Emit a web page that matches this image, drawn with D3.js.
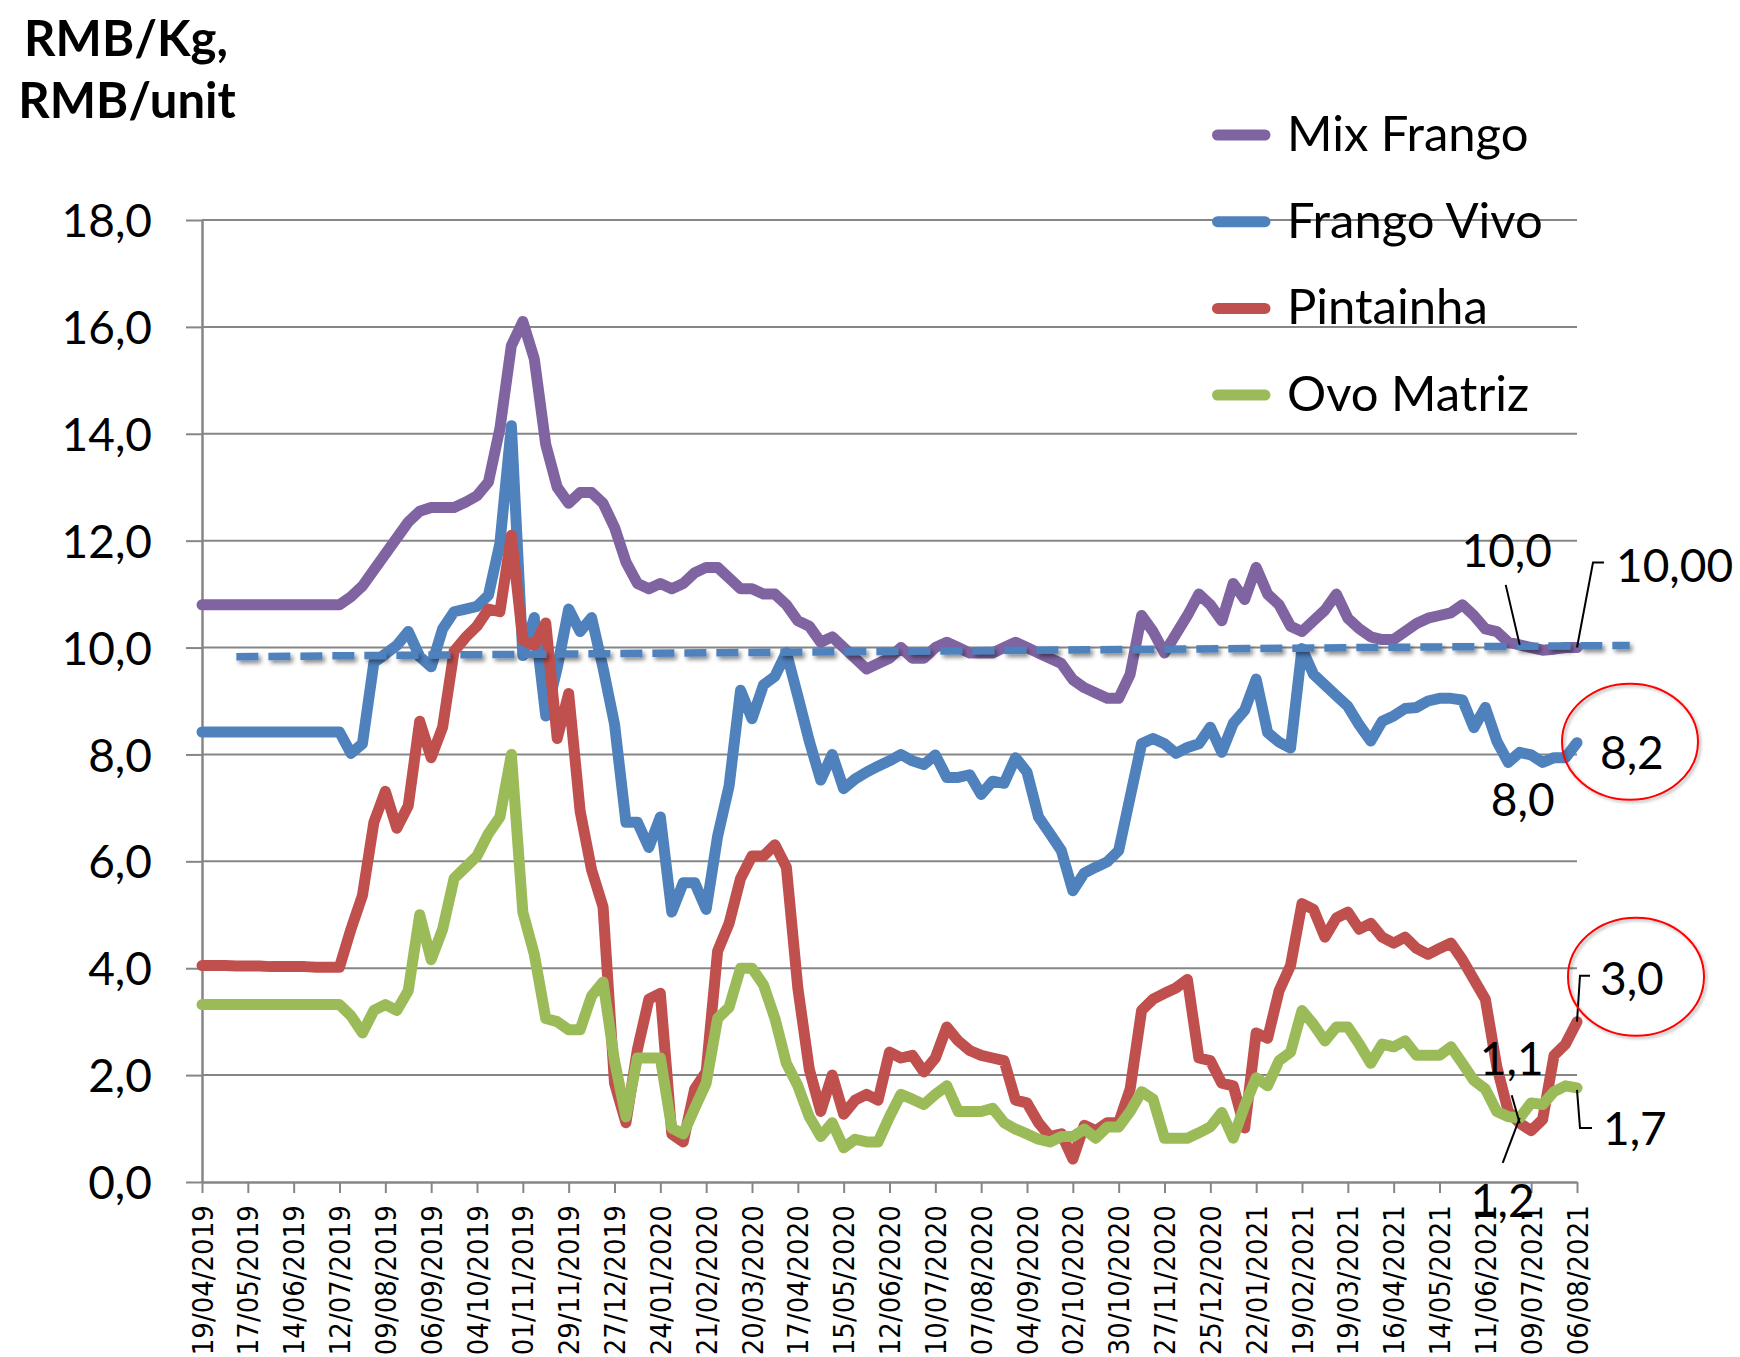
<!DOCTYPE html>
<html><head><meta charset="utf-8">
<script src="https://cdn.jsdelivr.net/npm/d3@7"></script>
<style>html,body{margin:0;padding:0;background:#fff;} svg{display:block;background:#fff}</style>
</head><body>
<svg id="c" width="1740" height="1357"></svg>
<script>
// ---- data (weekly, 19/04/2019 .. 06/08/2021, 121 weeks) ----
const tickLabels = ["19/04/2019","17/05/2019","14/06/2019","12/07/2019","09/08/2019","06/09/2019","04/10/2019","01/11/2019","29/11/2019","27/12/2019","24/01/2020","21/02/2020","20/03/2020","17/04/2020","15/05/2020","12/06/2020","10/07/2020","07/08/2020","04/09/2020","02/10/2020","30/10/2020","27/11/2020","25/12/2020","22/01/2021","19/02/2021","19/03/2021","16/04/2021","14/05/2021","11/06/2021","09/07/2021","06/08/2021"];
const yTickValues = [0,2,4,6,8,10,12,14,16,18];
const yTickLabels = ["0,0","2,0","4,0","6,0","8,0","10,0","12,0","14,0","16,0","18,0"];
const seriesNames = ["Mix Frango","Frango Vivo","Pintainha","Ovo Matriz"];
const seriesColors = ["#8064A2","#4F81BD","#C0504D","#9BBB59"];

const mixFrango = [
10.8,10.8,10.8,10.8,10.8,10.8,10.8,10.8,10.8,10.8,
10.8,10.8,10.8,10.95,11.15,11.45,11.75,12.05,12.35,12.55,
12.62,12.62,12.62,12.72,12.84,13.1,14.1,15.65,16.1,15.4,
13.8,13.0,12.7,12.9,12.9,12.7,12.25,11.6,11.2,11.1,
11.2,11.1,11.2,11.4,11.5,11.5,11.3,11.1,11.1,11.0,
11.0,10.8,10.5,10.4,10.1,10.2,10.0,9.8,9.6,9.7,
9.8,10.0,9.8,9.8,10.0,10.1,10.0,9.9,9.9,9.9,
10.0,10.1,10.0,9.9,9.8,9.7,9.4,9.25,9.15,9.05,
9.05,9.5,10.6,10.3,9.9,10.25,10.6,11.0,10.8,10.5,
11.2,10.9,11.5,11.0,10.8,10.4,10.3,10.5,10.7,11.0,
10.55,10.35,10.2,10.15,10.15,10.3,10.45,10.55,10.6,10.65,
10.8,10.6,10.35,10.3,10.1,10.05,10.0,9.95,9.97,10.0,
10.0];
const frangoVivo = [
8.42,8.42,8.42,8.42,8.42,8.42,8.42,8.42,8.42,8.42,
8.42,8.42,8.42,8.02,8.2,9.72,9.88,10.04,10.3,9.83,
9.64,10.35,10.67,10.72,10.77,10.98,11.95,14.15,9.85,10.56,
8.72,9.62,10.72,10.3,10.56,9.62,8.57,6.73,6.73,6.26,
6.83,5.05,5.6,5.6,5.1,6.47,7.41,9.2,8.67,9.3,
9.46,9.91,9.09,8.25,7.52,8.0,7.36,7.54,7.67,7.78,
7.88,8.0,7.88,7.81,7.99,7.57,7.57,7.62,7.25,7.5,
7.46,7.94,7.67,6.83,6.52,6.2,5.45,5.78,5.89,5.99,
6.2,7.2,8.2,8.3,8.2,8.02,8.13,8.2,8.51,8.04,
8.58,8.83,9.41,8.41,8.23,8.12,9.98,9.5,9.3,9.1,
8.9,8.55,8.25,8.62,8.72,8.86,8.88,9.0,9.05,9.05,
9.02,8.5,8.88,8.25,7.85,8.04,7.99,7.85,7.94,7.94,
8.22];
const pintainha = [
4.05,4.05,4.05,4.04,4.04,4.04,4.03,4.03,4.03,4.03,
4.02,4.02,4.02,4.73,5.36,6.73,7.31,6.62,7.04,8.62,
7.94,8.51,9.93,10.19,10.4,10.72,10.67,12.1,10.14,10.04,
10.46,8.3,9.14,6.94,5.84,5.15,1.85,1.11,2.48,3.42,
3.53,0.9,0.75,1.74,2.06,4.32,4.84,5.68,6.1,6.1,
6.31,5.89,3.63,2.11,1.32,2.0,1.27,1.53,1.64,1.53,
2.43,2.32,2.37,2.06,2.32,2.9,2.64,2.46,2.37,2.32,
2.27,1.53,1.48,1.11,0.85,0.9,0.43,1.06,0.96,1.11,
1.11,1.74,3.21,3.42,3.53,3.63,3.79,2.32,2.27,1.85,
1.8,1.01,2.79,2.69,3.58,4.05,5.21,5.1,4.58,4.94,
5.05,4.73,4.84,4.58,4.47,4.58,4.37,4.26,4.37,4.47,
4.16,3.79,3.42,2.16,1.32,1.1,0.96,1.17,2.37,2.58,
3.0];
const ovoMatriz = [
3.32,3.32,3.32,3.32,3.32,3.32,3.32,3.32,3.32,3.32,
3.32,3.32,3.32,3.11,2.79,3.21,3.32,3.21,3.58,5.0,
4.16,4.73,5.68,5.89,6.1,6.52,6.83,8.0,5.05,4.26,
3.06,3.0,2.85,2.85,3.48,3.74,2.27,1.22,2.32,2.32,
2.32,1.01,0.9,1.38,1.85,3.06,3.27,4.0,4.0,3.69,
3.06,2.22,1.8,1.22,0.85,1.11,0.64,0.8,0.75,0.75,
1.22,1.64,1.55,1.45,1.64,1.8,1.32,1.32,1.32,1.38,
1.11,0.99,0.9,0.8,0.75,0.85,0.85,0.99,0.82,1.03,
1.03,1.32,1.69,1.55,0.82,0.82,0.82,0.92,1.03,1.3,
0.82,1.43,1.95,1.8,2.27,2.43,3.21,2.95,2.64,2.9,
2.9,2.58,2.22,2.58,2.53,2.64,2.37,2.37,2.37,2.53,
2.22,1.9,1.74,1.32,1.22,1.2,1.48,1.45,1.69,1.8,
1.76];
// reference (dashed) lines: [weekIndex, value]
const refBlueLine = [[3.0, 9.83],[124.6, 10.04]];
const refRedLine  = [[1.8, 4.95],[121.1, 4.95]];
// data labels: [seriesIndex, weekIndex, text]
const dataLabels = [
  [0,115,"10,0"],[0,120,"10,00"],[1,120,"8,2"],[1,115,"8,0"],
  [2,120,"3,0"],[2,115,"1,1"],[3,115,"1,2"],[3,120,"1,7"]
];

// ---- chart ----
const allSeries = [mixFrango, frangoVivo, pintainha, ovoMatriz];
const svg = d3.select("#c");
const W = 1740, H = 1357;
const x = d3.scaleLinear().domain([0,120]).range([202,1577]);
const y = d3.scaleLinear().domain([0,18]).range([1182,220]);
const GRID = "#868686";
const FONT = "Lato, 'Open Sans', sans-serif";

svg.append("rect").attr("width",W).attr("height",H).attr("fill","#fff");

const defs = svg.append("defs");
const f = defs.append("filter").attr("id","sh").attr("x","-5%").attr("y","-50%").attr("width","110%").attr("height","300%");
f.append("feDropShadow").attr("dx",2.5).attr("dy",3).attr("stdDeviation",2).attr("flood-color","#000").attr("flood-opacity",0.45);
const f2 = defs.append("filter").attr("id","sh2").attr("x","-10%").attr("y","-10%").attr("width","130%").attr("height","130%");
f2.append("feDropShadow").attr("dx",2).attr("dy",2).attr("stdDeviation",1.5).attr("flood-color","#000").attr("flood-opacity",0.3);

// gridlines
svg.append("g").selectAll("line").data(yTickValues.filter(v=>v>0)).join("line")
  .attr("x1",x(0)).attr("x2",x(120)).attr("y1",d=>y(d)).attr("y2",d=>y(d))
  .attr("stroke",GRID).attr("stroke-width",2);

// y axis
const yAxis = svg.append("g").attr("transform",`translate(${x(0)},0)`)
  .call(d3.axisLeft(y).tickValues(yTickValues).tickSize(16).tickSizeOuter(0).tickPadding(34)
    .tickFormat((d,i)=>yTickLabels[i]));
yAxis.select(".domain").attr("stroke",GRID).attr("stroke-width",2.5);
yAxis.selectAll(".tick line").attr("stroke",GRID).attr("stroke-width",2);
yAxis.selectAll(".tick text").attr("font-family",FONT).attr("font-size",46).attr("fill","#000").attr("dy","0.36em");

// x axis
const xAxis = svg.append("g").attr("transform",`translate(0,${y(0)})`)
  .call(d3.axisBottom(x).tickValues(d3.range(0,121,4)).tickSize(11).tickSizeOuter(0)
    .tickFormat((d,i)=>tickLabels[i]));
xAxis.select(".domain").attr("stroke",GRID).attr("stroke-width",2.5);
xAxis.selectAll(".tick line").attr("stroke",GRID).attr("stroke-width",2);
xAxis.selectAll(".tick text").attr("font-family","'DejaVu Sans', Verdana, sans-serif").attr("font-size",28).attr("fill","#000")
  .attr("transform","rotate(-90) scale(0.93,1)").attr("text-anchor","end").attr("x",-25).attr("y",0).attr("dy","0.36em");

// series lines
const line = d3.line().x((d,i)=>x(i)).y(d=>y(d));
svg.append("g").selectAll("path").data(allSeries).join("path")
  .attr("d",line).attr("fill","none").attr("stroke",(d,i)=>seriesColors[i])
  .attr("stroke-width",11).attr("stroke-linejoin","round").attr("stroke-linecap","round");

// dashed reference lines
const refLine = d3.line().x(d=>x(d[0])).y(d=>y(d[1]));
svg.append("path").attr("d",refLine(refBlueLine)).attr("fill","none").attr("stroke","#4F81BD")
  .attr("stroke-width",7.5).attr("stroke-dasharray","22 10").attr("filter","url(#sh)");
svg.append("path").attr("d",refLine(refRedLine)).attr("fill","none").attr("stroke","#FF0000")
  .attr("stroke-width",7.5).attr("stroke-dasharray","24 8").attr("filter","url(#sh)");

// title
const title = svg.append("text").attr("font-family",FONT).attr("font-weight","bold").attr("font-size",49)
  .attr("text-anchor","middle").attr("fill","#000");
title.append("tspan").attr("x",126).attr("y",56).text("RMB/Kg,");
title.append("tspan").attr("x",127).attr("y",118).text("RMB/unit");

// legend
const lg = svg.append("g").selectAll("g").data(seriesNames).join("g")
  .attr("transform",(d,i)=>`translate(1212,${135 + i*86.7})`);
lg.append("line").attr("x1",5.5).attr("x2",53).attr("y1",0).attr("y2",0)
  .attr("stroke",(d,i)=>seriesColors[i]).attr("stroke-width",11).attr("stroke-linecap","round");
lg.append("text").attr("x",75).attr("y",16).attr("font-family",FONT).attr("font-size",49).attr("fill","#000").text(d=>d);

// data labels with leaders (positions relative to data point via scales)
const lblFont = 46;
function pt(s,i){ return [x(i), y(allSeries[s][i])]; }
const ann = svg.append("g").attr("font-family",FONT).attr("font-size",lblFont).attr("fill","#000");
const lead = svg.append("g").attr("stroke","#000").attr("stroke-width",2).attr("fill","none");
dataLabels.forEach(([s,i,t])=>{
  const [px,py] = pt(s,i);
  let tx, ty, anchor, path=null;
  if (t==="10,0")      { tx=px-13; ty=py-78; anchor="middle"; path=[[px-14,py-60],[px,py]]; }
  else if (t==="10,00"){ tx=px+39; ty=py-66; anchor="start"; path=[[px+27,py-85],[px+16,py-85],[px,py]]; }
  else if (t==="8,2")  { tx=px+23; ty=py+26; anchor="start";
      svg.append("ellipse").attr("cx",px+53).attr("cy",py-1).attr("rx",68).attr("ry",58)
        .attr("fill","none").attr("stroke","#FF0000").attr("stroke-width",2).attr("filter","url(#sh2)"); }
  else if (t==="8,0")  { tx=px+3; ty=py+64; anchor="middle"; }
  else if (t==="3,0")  { tx=px+23; ty=py-27; anchor="start"; path=[[px+13,py-46],[px+3,py-46],[px,py]];
      svg.append("ellipse").attr("cx",px+59).attr("cy",py-45).attr("rx",68).attr("ry",59)
        .attr("fill","none").attr("stroke","#FF0000").attr("stroke-width",2).attr("filter","url(#sh2)"); }
  else if (t==="1,1")  { tx=px-8; ty=py-48; anchor="middle"; path=[[px-8,py-28],[px,py]]; }
  else if (t==="1,2")  { tx=px-17; ty=py+99; anchor="middle"; path=[[px-17,py+45],[px,py]]; }
  else if (t==="1,7")  { tx=px+26; ty=py+57; anchor="start"; path=[[px,py+2],[px+3,py+40],[px+15,py+40]]; }
  if (path) lead.append("path").attr("d",d3.line()(path));
  ann.append("text").attr("x",tx).attr("y",ty).attr("text-anchor",anchor).text(t);
});
</script>
</body></html>
